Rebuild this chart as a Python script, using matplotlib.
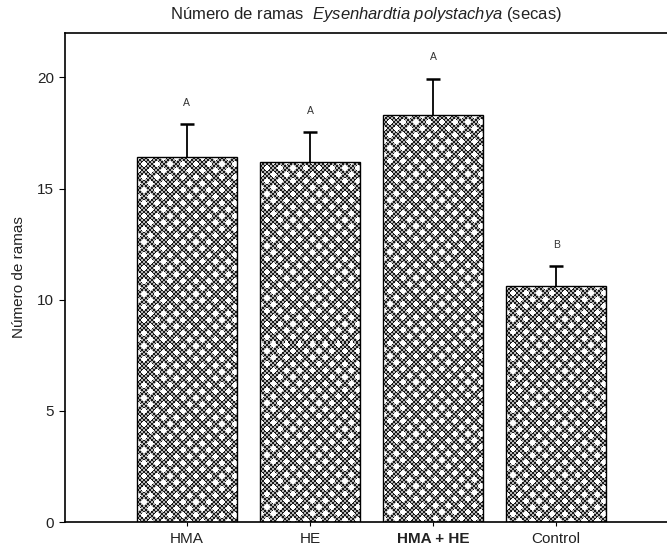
import numpy as np
import matplotlib
matplotlib.use('Agg')
import matplotlib.pyplot as plt

plt.rcParams['font.family'] = ['Liberation Sans', 'DejaVu Sans']
plt.rcParams['mathtext.fontset'] = 'custom'
plt.rcParams['mathtext.rm'] = 'Liberation Sans'
plt.rcParams['mathtext.it'] = 'Liberation Sans:italic'

treatments = ['HMA', 'HE', 'HMA + HE', 'Control']
means = [16.4, 16.2, 18.3, 10.6]
errors = [1.5, 1.35, 1.65, 0.9]
groups = ['A', 'A', 'A', 'B']


def texture(h, w, period=13, radius=3.5):
    # fine checker with a diagonal lattice of white holes
    yy, xx = np.mgrid[0:h, 0:w]
    img = np.where((xx // 2 + yy // 2) % 2 == 0, 0.1, 0.7)
    u = xx + yy
    v = xx - yy
    du = np.abs(((u + period / 2) % period) - period / 2)
    dv = np.abs(((v + period / 2) % period) - period / 2)
    img[np.maximum(du, dv) < radius] = 1.0
    return img


fig = plt.figure(figsize=(6.67, 5.52), dpi=100)
ax = fig.add_axes([0.0975, 0.0543, 0.9025, 0.8859])

x = np.arange(len(treatments))
width = 0.81
ax.set_xlim(-0.99, 3.9)
ax.set_ylim(0, 22)

bars = ax.bar(x, means, width, facecolor='none', edgecolor='black', linewidth=1.0, zorder=2)
fig.canvas.draw()
for b in bars:
    x0, y0 = b.get_x(), b.get_y()
    x1, y1 = x0 + b.get_width(), y0 + b.get_height()
    (px0, py0), (px1, py1) = ax.transData.transform([(x0, y0), (x1, y1)])
    img = texture(int(round(py1 - py0)), int(round(px1 - px0)))
    im = ax.imshow(img, cmap='gray', vmin=0, vmax=1, interpolation='nearest',
                   extent=(x0, x1, y0, y1), aspect='auto', zorder=1)
    im.set_clip_path(b)
ax.set_aspect('auto')
ax.set_xlim(-0.99, 3.9)
ax.set_ylim(0, 22)

# upper error bars only
tops = np.array(means) + np.array(errors)
ax.vlines(x, means, tops, color='black', linewidth=1.3, zorder=3)
ax.plot(x, tops, linestyle='none', marker='_', markersize=10, markeredgewidth=1.8,
        color='black', zorder=3)

for xi, t, g in zip(x, tops, groups):
    ax.text(xi, t + 0.95, g, ha='center', va='center', fontsize=7.5, color='#333333')

ax.set_xticks(x)
ax.set_xticklabels(treatments, fontsize=11, color='#222222')
ax.get_xticklabels()[2].set_fontweight('bold')
ax.set_yticks([0, 5, 10, 15, 20])
ax.tick_params(axis='y', labelsize=11, labelcolor='#222222', length=4, width=0.8,
               direction='out', pad=4)
ax.tick_params(axis='x', length=3, width=0.8, direction='out', pad=4)
ax.set_ylabel('Número de ramas', fontsize=11, color='#222222', labelpad=8)
ax.set_title(r'Número de ramas  $\mathit{Eysenhardtia\ polystachya}$ (secas)',
             fontsize=12, color='#222222', pad=10)

ax.spines['right'].set_visible(False)
for s in ['left', 'top', 'bottom']:
    ax.spines[s].set_linewidth(1.2)

fig.savefig('out.png', dpi=100)
